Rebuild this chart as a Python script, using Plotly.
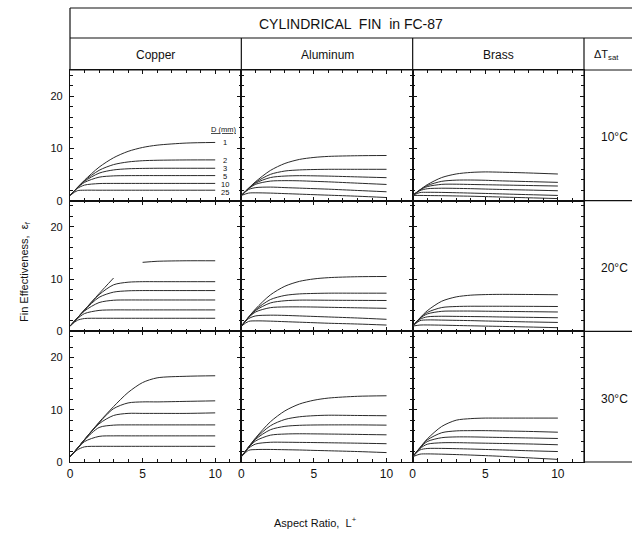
import plotly.graph_objects as go
from plotly.subplots import make_subplots

# ---------------- data ----------------
L_PLUS = [0, 0.5, 1, 2, 3, 4, 5, 6, 8, 10]          # aspect ratio grid
D_MM = ["1", "2", "3", "5", "10", "25"]             # fin diameters
D_LABEL_Y = [11.1, 7.7, 6.1, 4.6, 3.1, 1.6]         # label heights, copper 10°C panel
MATERIALS = ["Copper", "Aluminum", "Brass"]
DELTA_T = ["10°C", "20°C", "30°C"]
X_TICKS = [0, 5, 10]
Y_TICKS = [0, 10, 20]

eps_cu_10 = [
    [1, 2.49, 3.92, 6.40, 8.21, 9.43, 10.18, 10.62, 11.02, 11.14],
    [1, 2.48, 3.82, 5.80, 6.90, 7.41, 7.64, 7.73, 7.79, 7.80],
    [1, 2.46, 3.70, 5.26, 5.88, 6.10, 6.17, 6.20, 6.20, 6.20],
    [1, 2.43, 3.50, 4.49, 4.74, 4.79, 4.80, 4.80, 4.80, 4.80],
    [1, 2.32, 2.98, 3.27, 3.30, 3.30, 3.30, 3.30, 3.30, 3.30],
    [1, 1.90, 2.00, 2.00, 2.00, 2.00, 2.00, 2.00, 2.00, 2.00],
]
eps_cu_20 = [
    [1, 2.55, 4.10, 7.20, 10.20, None, 13.20, 13.40, 13.50, 13.50],
    [1, 2.55, 4.10, 7.00, 8.90, 9.40, 9.50, 9.50, 9.50, 9.50],
    [1, 2.55, 4.05, 6.50, 7.50, 7.75, 7.80, 7.80, 7.80, 7.80],
    [1, 2.50, 3.90, 5.50, 5.95, 6.00, 6.00, 6.00, 6.00, 6.00],
    [1, 2.40, 3.40, 4.00, 4.10, 4.10, 4.10, 4.10, 4.10, 4.10],
    [1, 2.10, 2.45, 2.50, 2.50, 2.50, 2.50, 2.50, 2.50, 2.50],
]
eps_cu_30 = [
    [1, 2.60, 4.30, 7.60, 10.60, 13.30, 15.20, 16.10, 16.40, 16.50],
    [1, 2.60, 4.30, 7.50, 10.20, 11.30, 11.50, 11.50, 11.60, 11.70],
    [1, 2.60, 4.25, 7.30, 8.90, 9.30, 9.30, 9.30, 9.30, 9.40],
    [1, 2.60, 4.20, 6.60, 7.05, 7.10, 7.10, 7.10, 7.10, 7.10],
    [1, 2.50, 3.90, 4.90, 5.00, 5.00, 5.00, 5.00, 5.00, 5.00],
    [1, 2.30, 2.90, 3.00, 3.00, 3.00, 3.00, 3.00, 3.00, 3.00],
]
eps_al_10 = [
    [1, 2.38, 3.68, 5.78, 7.12, 7.89, 8.27, 8.47, 8.60, 8.64],
    [1, 2.37, 3.54, 5.03, 5.67, 5.88, 5.96, 6.00, 6.00, 6.00],
    [1, 2.34, 3.38, 4.42, 4.71, 4.78, 4.75, 4.70, 4.55, 4.40],
    [1, 2.29, 3.15, 3.74, 3.83, 3.80, 3.70, 3.60, 3.35, 3.10],
    [1, 2.13, 2.50, 2.60, 2.50, 2.40, 2.30, 2.20, 1.95, 1.70],
    [1, 1.45, 1.50, 1.45, 1.35, 1.25, 1.15, 1.05, 0.85, 0.60],
]
eps_al_20 = [
    [1, 2.73, 4.35, 6.97, 8.63, 9.56, 10.03, 10.27, 10.45, 10.49],
    [1, 2.71, 4.18, 6.07, 6.87, 7.16, 7.25, 7.30, 7.30, 7.30],
    [1, 2.68, 4.02, 5.43, 5.85, 5.97, 5.97, 5.95, 5.92, 5.90],
    [1, 2.63, 3.73, 4.53, 4.67, 4.68, 4.65, 4.60, 4.50, 4.40],
    [1, 2.43, 2.96, 3.09, 3.05, 2.95, 2.85, 2.75, 2.55, 2.30],
    [1, 1.90, 2.00, 1.95, 1.85, 1.75, 1.65, 1.55, 1.40, 1.20],
]
eps_al_30 = [
    [1, 2.88, 4.67, 7.69, 9.78, 11.09, 11.82, 12.23, 12.57, 12.67],
    [1, 2.87, 4.54, 6.93, 8.14, 8.65, 8.86, 8.95, 8.90, 8.85],
    [1, 2.85, 4.39, 6.17, 6.82, 7.02, 7.08, 7.10, 7.10, 7.05],
    [1, 2.78, 4.06, 5.13, 5.35, 5.40, 5.38, 5.35, 5.28, 5.20],
    [1, 2.65, 3.45, 3.77, 3.78, 3.75, 3.72, 3.68, 3.60, 3.50],
    [1, 2.23, 2.38, 2.40, 2.35, 2.30, 2.22, 2.15, 2.00, 1.80],
]
eps_br_10 = [
    [1, 2.08, 3.05, 4.42, 5.11, 5.40, 5.50, 5.45, 5.30, 5.10],
    [1, 2.05, 2.88, 3.70, 3.93, 3.95, 3.90, 3.80, 3.65, 3.50],
    [1, 2.02, 2.68, 3.12, 3.15, 3.10, 3.05, 3.00, 2.90, 2.80],
    [1, 1.92, 2.28, 2.38, 2.35, 2.30, 2.22, 2.15, 2.03, 1.90],
    [1, 1.55, 1.60, 1.58, 1.52, 1.45, 1.38, 1.30, 1.15, 1.00],
    [1, 1.00, 0.98, 0.95, 0.90, 0.85, 0.78, 0.70, 0.55, 0.40],
]
eps_br_20 = [
    [1, 2.56, 3.93, 5.76, 6.59, 6.92, 7.03, 7.07, 7.05, 7.00],
    [1, 2.51, 3.61, 4.55, 4.75, 4.80, 4.80, 4.80, 4.78, 4.75],
    [1, 2.46, 3.32, 3.83, 3.88, 3.88, 3.85, 3.82, 3.76, 3.70],
    [1, 2.31, 2.77, 2.88, 2.86, 2.83, 2.80, 2.75, 2.68, 2.60],
    [1, 2.04, 2.18, 2.15, 2.10, 2.05, 1.98, 1.92, 1.80, 1.70],
    [1, 1.20, 1.22, 1.18, 1.12, 1.06, 1.00, 0.95, 0.83, 0.70],
]
eps_br_30 = [
    [1, 2.75, 4.40, 6.80, 8.00, 8.30, 8.40, 8.40, 8.40, 8.40],
    [1, 2.70, 4.20, 5.60, 5.95, 6.00, 6.00, 5.95, 5.85, 5.70],
    [1, 2.65, 3.90, 4.65, 4.80, 4.80, 4.75, 4.70, 4.60, 4.50],
    [1, 2.55, 3.40, 3.68, 3.70, 3.65, 3.60, 3.55, 3.45, 3.30],
    [1, 2.30, 2.58, 2.60, 2.55, 2.48, 2.40, 2.32, 2.15, 2.00],
    [1, 1.50, 1.55, 1.50, 1.42, 1.33, 1.22, 1.10, 0.80, 0.50],
]

PANELS = [
    [eps_cu_10, eps_al_10, eps_br_10],
    [eps_cu_20, eps_al_20, eps_br_20],
    [eps_cu_30, eps_al_30, eps_br_30],
]

# ---------------- layout geometry (pixels) ----------------
W, H = 632, 533
ML, MR, MT, MB = 70, 48, 70, 71
PW, PH = W - ML - MR, H - MT - MB
FONT = "Liberation Sans, Arial, Helvetica, sans-serif"
INK = "#111111"


def px(x):
    return (x - ML) / PW


def py(y):
    return (H - MB - y) / PH


fig = make_subplots(rows=3, cols=3, horizontal_spacing=0, vertical_spacing=0)

for r in range(3):
    for c in range(3):
        for curve in PANELS[r][c]:
            fig.add_trace(
                go.Scatter(
                    x=L_PLUS, y=curve, mode="lines",
                    line=dict(color="#2a2a2a", width=1, shape="spline", smoothing=0.8),
                    showlegend=False, hoverinfo="skip", connectgaps=False,
                ),
                row=r + 1, col=c + 1,
            )
        fig.update_xaxes(
            row=r + 1, col=c + 1,
            range=[0, 11.8], showgrid=False, zeroline=False,
            showline=True, linecolor=INK, linewidth=1.2, mirror="ticks",
            ticks="inside", ticklen=4, tickcolor=INK, tickwidth=1,
            tickvals=X_TICKS, ticktext=[str(v) for v in X_TICKS],
            showticklabels=(r == 2),
            tickfont=dict(family=FONT, size=12, color=INK),
            minor=dict(dtick=1, ticks="inside", ticklen=2.5, tickcolor=INK, tickwidth=1),
        )
        fig.update_yaxes(
            row=r + 1, col=c + 1,
            range=[0, 25], showgrid=False, zeroline=False,
            showline=True, linecolor=INK, linewidth=1.2, mirror="ticks",
            ticks="inside", ticklen=4, tickcolor=INK, tickwidth=1,
            tickvals=Y_TICKS, ticktext=[str(v) for v in Y_TICKS],
            showticklabels=(c == 0),
            tickfont=dict(family=FONT, size=11, color=INK),
            ticklabelstandoff=4,
            minor=dict(dtick=2, ticks="inside", ticklen=2.5, tickcolor=INK, tickwidth=1),
        )

# ---------------- table frame lines ----------------
col_edges = [ML + PW * k / 3 for k in range(4)]
row_edges = [MT + PH * k / 3 for k in range(4)]
lines = [
    (ML, 8, W, 8), (ML, 38, W, 38), (ML, 70, W, 70),
    (ML, 8, ML, 70),
    (col_edges[1], 38, col_edges[1], 70),
    (col_edges[2], 38, col_edges[2], 70),
    (col_edges[3], 38, col_edges[3], row_edges[3]),
]
for ye in row_edges[1:]:
    lines.append((col_edges[3], ye, W, ye))
for x0, y0, x1, y1 in lines:
    fig.add_shape(type="line", xref="paper", yref="paper",
                  x0=px(x0), y0=py(y0), x1=px(x1), y1=py(y1),
                  line=dict(color=INK, width=1.2))

ann = []
ann.append(dict(text="CYLINDRICAL  FIN  in FC-87", x=px((ML + W) / 2), y=py(24),
                font=dict(size=14, family=FONT, color=INK)))
for k, m in enumerate(MATERIALS):
    ann.append(dict(text=m, x=px((col_edges[k] + col_edges[k + 1]) / 2), y=py(55),
                    font=dict(size=12, family=FONT, color=INK)))
ann.append(dict(text="ΔT<sub>sat</sub>", x=px(606), y=py(55),
                font=dict(size=11, family=FONT, color=INK)))
for k, t in enumerate(DELTA_T):
    ann.append(dict(text=t, x=px(614), y=py((row_edges[k] + row_edges[k + 1]) / 2 + 2),
                    font=dict(size=12, family=FONT, color=INK)))
ann.append(dict(text="Fin Effectiveness,  ε<sub>f</sub>", x=px(25), y=py(272),
                textangle=-90, font=dict(size=11, family=FONT, color=INK)))
ann.append(dict(text="Aspect Ratio,  L<sup>+</sup>", x=px(315), y=py(522),
                font=dict(size=11, family=FONT, color=INK)))
for a in ann:
    a.update(xref="paper", yref="paper", showarrow=False, xanchor="center", yanchor="middle")
    fig.add_annotation(**a)

# diameter labels in the copper / 10°C panel
fig.add_annotation(text="<u>D (mm)</u>", x=10.55, y=13.6, xref="x", yref="y",
                   showarrow=False, font=dict(size=7.5, family=FONT, color=INK))
for d, ly in zip(D_MM, D_LABEL_Y):
    fig.add_annotation(text=d, x=10.7, y=ly, xref="x", yref="y",
                       showarrow=False, font=dict(size=7.5, family=FONT, color=INK))

fig.update_layout(
    width=W, height=H,
    margin=dict(l=ML, r=MR, t=MT, b=MB),
    paper_bgcolor="white", plot_bgcolor="white",
    showlegend=False,
)

fig.write_html("out.html")
